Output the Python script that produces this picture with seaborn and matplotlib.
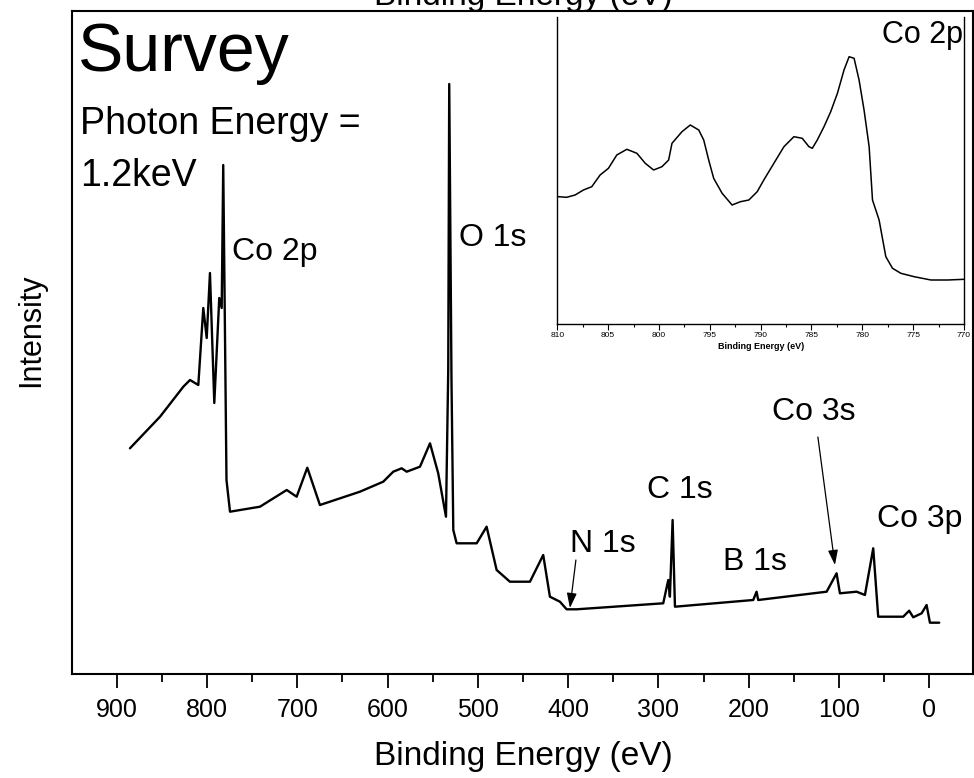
import numpy as np
import pandas as pd
import matplotlib
matplotlib.use("Agg")
import matplotlib.pyplot as plt
import seaborn as sns
from matplotlib.ticker import MultipleLocator

# ---- survey spectrum (binding energy in eV, intensity in arbitrary units) ----
survey_be = [885.3, 852.0, 826.2, 818.8, 809.6, 804.1, 800.3, 796.7, 791.9, 786.4,
             783.7, 782.0, 778.4, 774.5, 741.3, 711.7, 700.7, 688.9, 674.9, 630.6,
             604.8, 593.7, 584.4, 578.8, 564.1, 553.0, 543.9, 535.3, 532.8, 531.7,
             529.2, 527.2, 523.5, 501.3, 490.3, 479.2, 464.5, 442.3, 427.6, 420.2,
             409.1, 401.7, 390.6, 294.7, 289.1, 287.3, 284.3, 281.7, 195.0, 191.3,
             189.5, 113.7, 102.7, 99.0, 80.5, 71.3, 62.1, 56.6, 28.9, 22.3,
             17.8, 8.5, 3.0, -0.7, -11.0]
survey_int = [225.7, 257.3, 287.3, 294.0, 289.0, 366.0, 336.0, 401.0, 271.0, 376.0,
              366.0, 509.0, 194.0, 162.3, 167.3, 184.0, 177.3, 206.3, 169.0, 182.3,
              192.3, 202.3, 205.7, 202.3, 207.3, 230.7, 200.7, 157.3, 304.0, 590.0,
              294.0, 144.0, 130.7, 130.7, 147.3, 104.0, 92.3, 92.3, 119.0, 77.3,
              72.3, 64.7, 64.7, 70.7, 94.0, 77.3, 154.0, 67.3, 74.0, 82.3,
              74.0, 82.3, 100.7, 80.7, 82.3, 79.0, 125.7, 57.3, 57.3, 63.3,
              56.7, 60.7, 69.0, 51.3, 51.3]

# ---- Co 2p high-resolution inset ----
co2p_be = [809.90, 809.08, 808.25, 807.43, 806.61, 805.79, 804.97, 804.15, 803.16, 802.17,
           801.35, 800.53, 799.71, 799.05, 798.72, 797.74, 796.92, 796.09, 795.60, 795.11,
           794.62, 793.79, 792.81, 791.99, 791.16, 790.34, 789.69, 788.70, 787.71, 786.73,
           785.91, 785.25, 784.92, 784.43, 783.77, 783.11, 782.45, 781.80, 781.30, 780.81,
           780.32, 779.83, 779.33, 779.00, 778.35, 777.69, 777.03, 776.21, 774.90, 773.25,
           771.61, 769.97]
co2p_int = [127.3, 126.7, 129.0, 134.0, 137.3, 149.0, 155.7, 169.0, 174.7, 170.7,
            160.7, 154.0, 157.3, 164.0, 180.7, 192.3, 199.0, 194.0, 184.0, 164.0,
            145.7, 130.7, 119.0, 122.3, 124.0, 132.3, 144.0, 160.7, 177.3, 187.3,
            185.7, 177.3, 175.7, 184.0, 197.3, 212.3, 230.7, 254.0, 267.3, 265.7,
            244.0, 214.0, 177.3, 124.0, 104.0, 67.3, 55.7, 50.7, 47.3, 44.0,
            44.0, 44.7]

main_ticks = [900, 800, 700, 600, 500, 400, 300, 200, 100, 0]
inset_ticks = [810, 805, 800, 795, 790, 785, 780, 775, 770]

survey = pd.DataFrame({"be": survey_be, "intensity": survey_int})
co2p = pd.DataFrame({"be": co2p_be, "intensity": co2p_int})

sns.set_style("ticks")
plt.rcParams["font.family"] = ["Liberation Sans", "DejaVu Sans"]
plt.rcParams["text.color"] = "black"
plt.rcParams["axes.labelcolor"] = "black"
plt.rcParams["xtick.color"] = "black"
plt.rcParams["ytick.color"] = "black"
plt.rcParams["axes.edgecolor"] = "black"

W, H = 974, 778
fig = plt.figure(figsize=(W / 100, H / 100), dpi=100)

# ---------------- main axes ----------------
ax = fig.add_axes([72 / W, 1 - 674 / H, (973 - 72) / W, (674 - 11) / H])
sns.lineplot(data=survey, x="be", y="intensity", ax=ax, color="black",
             linewidth=1.7, sort=False, estimator=None)
ax.set_xlim(949.5, -48.4)
ax.set_ylim(0, 663)
ax.set_xticks(main_ticks)
ax.set_xticklabels([str(t) for t in main_ticks])
ax.xaxis.set_minor_locator(MultipleLocator(50))
ax.tick_params(axis="x", which="major", direction="out", length=10, width=1.3,
               labelsize=18, pad=7, color="black", labelcolor="black")
ax.tick_params(axis="x", which="minor", direction="out", length=6, width=1.3,
               color="black")
ax.set_yticks([])
ax.set_xlabel("")
ax.set_ylabel("")
for s in ax.spines.values():
    s.set_visible(True)
    s.set_linewidth(1.5)
    s.set_color("black")

fig.text(523 / W, 1 - 765 / H, "Binding Energy (eV)", ha="center",
         va="baseline", fontsize=24, color="black")
fig.text(523 / W, 1 - 5 / H, "Binding Energy (eV)", ha="center",
         va="baseline", fontsize=24, color="black")
fig.text(31 / W, 1 - 330 / H, "Intensity", rotation=90, ha="center",
         va="center", fontsize=22, color="black")

fig.text(78 / W, 1 - 71 / H, "Survey", ha="left", va="baseline", fontsize=49,
         color="black")
fig.text(80 / W, 1 - 134 / H, "Photon Energy =", ha="left", va="baseline",
         fontsize=27, color="black")
fig.text(80 / W, 1 - 186 / H, "1.2keV", ha="left", va="baseline", fontsize=27,
         color="black")

# peak labels (data coordinates)
lab_kw = dict(ha="left", va="baseline", fontsize=23, color="black")
ax.text(772.3, 414, "Co 2p", **lab_kw)
ax.text(520.9, 428, "O 1s", **lab_kw)
ax.text(398.0, 122, "N 1s", **lab_kw)
ax.text(312.8, 176, "C 1s", **lab_kw)
ax.text(228.6, 104, "B 1s", **lab_kw)
ax.text(174.4, 254, "Co 3s", **lab_kw)
ax.text(58.1, 147, "Co 3p", **lab_kw)

arrow_kw = dict(arrowstyle="-|>,head_length=0.9,head_width=0.3", color="black",
                lw=0.9, shrinkA=0, shrinkB=0)
ax.annotate("", xy=(398.0, 66), xytext=(391.4, 114), arrowprops=arrow_kw)
ax.annotate("", xy=(104.5, 109), xytext=(123.4, 237), arrowprops=arrow_kw)

# ---------------- inset ----------------
axin = fig.add_axes([557.3 / W, 1 - 324 / H, (964 - 557.3) / W, (324 - 17) / H])
sns.lineplot(data=co2p, x="be", y="intensity", ax=axin, color="black",
             linewidth=1.1, sort=False, estimator=None)
axin.set_xlim(810, 770)
axin.set_ylim(0, 307)
axin.set_xticks(inset_ticks)
axin.set_xticklabels([str(t) for t in inset_ticks])
axin.xaxis.set_minor_locator(MultipleLocator(2.5))
axin.tick_params(axis="x", which="major", direction="out", length=4, width=0.8,
                 labelsize=6, pad=2, color="black", labelcolor="black")
axin.tick_params(axis="x", which="minor", direction="out", length=2.5, width=0.8,
                 color="black")
axin.set_yticks([])
axin.set_ylabel("")
axin.set_xlabel("Binding Energy (eV)", fontsize=6.5, fontweight="bold",
                labelpad=2, color="black")
axin.spines["top"].set_visible(False)
for k in ("left", "bottom", "right"):
    axin.spines[k].set_visible(True)
    axin.spines[k].set_linewidth(1.0)
    axin.spines[k].set_color("black")
axin.text(0.998, 0.99, "Co 2p", transform=axin.transAxes, ha="right", va="top",
          fontsize=22, color="black")

fig.savefig("out.png", dpi=100)
